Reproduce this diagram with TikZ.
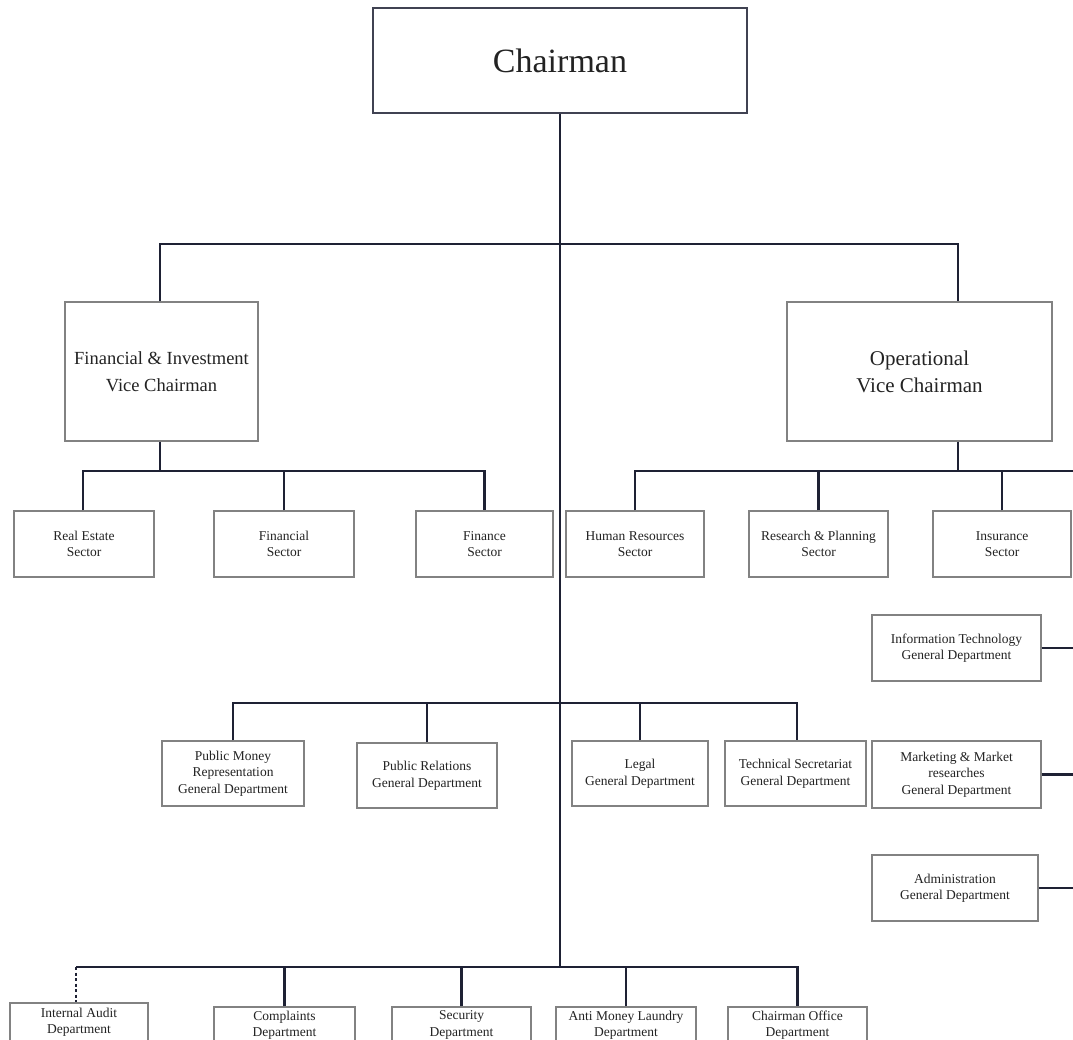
\documentclass[tikz,border=0pt]{standalone}
\usepackage{fontspec}
\setmainfont{Liberation Serif}
\definecolor{lineblue}{RGB}{30,33,52}
\definecolor{boxgray}{RGB}{130,130,130}
\definecolor{txt}{RGB}{35,35,35}
\tikzset{
  conn/.style={draw=lineblue, line width=2.6pt},
  dconn/.style={draw=lineblue, line width=1.6pt, dash pattern=on 3pt off 2.5pt},
  bx/.style={draw=boxgray, line width=1.4pt, fill=white, align=center, text=txt, inner sep=0pt,
             font=\fontsize{13.5}{16.5}\selectfont},
  vcbox/.style={bx, font=\fontsize{21}{27}\selectfont},
  fibox/.style={bx, font=\fontsize{18.5}{27}\selectfont},
  chbox/.style={draw=lineblue!85, line width=2.6pt, fill=white, align=center, text=txt, inner sep=0pt,
             font=\fontsize{34}{40}\selectfont},
}
\begin{document}
\begin{tikzpicture}[x=1pt, y=-1pt]
\useasboundingbox (0,0) rectangle (1073,1040);
\clip (0,0) rectangle (1073,1040);
\fill[white] (0,0) rectangle (1073,1040);

% bus levels and edge coordinates
\coordinate (topbus) at (0,244);
\coordinate (fbus) at (0,471);
\coordinate (obus) at (0,471);
\coordinate (mbus) at (0,703);
\coordinate (bbus) at (0,967);
\coordinate (redge) at (1073,471);

% nodes
\node[chbox, minimum width=374, minimum height=105] (chair) at (560,60.5) {Chairman};

\node[fibox, minimum width=193, minimum height=139] (fi) at (161.5,371.5) {Financial \& Investment\\Vice Chairman};
\node[vcbox, minimum width=265, minimum height=139] (op) at (919.5,371.5) {Operational\\Vice Chairman};

\node[bx, minimum width=140, minimum height=66] (re) at (84,544) {Real Estate\\Sector};
\node[bx, minimum width=140, minimum height=66] (fs) at (284,544) {Financial\\Sector};
\node[bx, minimum width=137, minimum height=66] (fn) at (484.5,544) {Finance\\Sector};
\node[bx, minimum width=138, minimum height=66] (hr) at (635,544) {Human Resources\\Sector};
\node[bx, minimum width=139, minimum height=66] (rp) at (818.5,544) {Research \& Planning\\Sector};
\node[bx, minimum width=138, minimum height=66] (ins) at (1002,544) {Insurance\\Sector};

\node[bx, minimum width=169, minimum height=66] (it) at (956.5,648) {Information Technology\\General Department};
\node[bx, minimum width=169, minimum height=67] (mk) at (956.5,774.5) {Marketing \& Market\\researches\\General Department};
\node[bx, minimum width=166, minimum height=66] (ad) at (955,888) {Administration\\General Department};

\node[bx, minimum width=142, minimum height=65] (pm) at (233,773.5) {Public Money\\Representation\\General Department};
\node[bx, minimum width=140, minimum height=65] (pr) at (427,775.5) {Public Relations\\General Department};
\node[bx, minimum width=136, minimum height=65] (lg) at (640,773.5) {Legal\\General Department};
\node[bx, minimum width=141, minimum height=65] (ts) at (795.5,773.5) {Technical Secretariat\\General Department};

\node[bx, minimum width=138, minimum height=38] (ia) at (79,1022) {Internal Audit\\Department};
\node[bx, minimum width=141, minimum height=36] (cp) at (284.5,1025) {Complaints\\Department};
\node[bx, minimum width=139, minimum height=36] (sc) at (461.5,1025) {Security\\Department};
\node[bx, minimum width=140, minimum height=36] (am) at (626,1025) {Anti Money Laundry\\Department};
\node[bx, minimum width=139, minimum height=36] (co) at (797.5,1025) {Chairman Office\\Department};

% connectors
\draw[conn] (chair.south) -- (chair.south |- bbus);
\draw[conn] ([xshift=-1.5]fi.north) -- ([xshift=-1.5]fi.north |- topbus) -- ([xshift=38.5]op.north |- topbus) -- ([xshift=38.5]op.north);

\draw[conn] ([xshift=-1.5]fi.south) -- ([xshift=-1.5]fi.south |- fbus);
\draw[conn] ([xshift=-1]re.north) -- ([xshift=-1]re.north |- fbus) -- (fn.north |- fbus) -- (fn.north);
\draw[conn] (fs.north) -- (fs.north |- fbus);

\draw[conn] ([xshift=38.5]op.south) -- ([xshift=38.5]op.south |- obus);
\draw[conn] (hr.north) -- (hr.north |- obus) -- (redge);
\draw[conn] (rp.north) -- (rp.north |- obus);
\draw[conn] (ins.north) -- (ins.north |- obus);

\draw[conn] (it.east) -- (it.east -| redge);
\draw[conn] (mk.east) -- (mk.east -| redge);
\draw[conn] (ad.east) -- (ad.east -| redge);

\draw[conn] (pm.north) -- (pm.north |- mbus) -- ([xshift=1.5]ts.north |- mbus) -- ([xshift=1.5]ts.north);
\draw[conn] (pr.north) -- (pr.north |- mbus);
\draw[conn] (lg.north) -- (lg.north |- mbus);

\draw[conn] ([xshift=-3]ia.north |- bbus) -- (co.north |- bbus) -- (co.north);
\draw[dconn] ([xshift=-3]ia.north |- bbus) -- ([xshift=-3]ia.north);
\draw[conn] (cp.north) -- (cp.north |- bbus);
\draw[conn] (sc.north) -- (sc.north |- bbus);
\draw[conn] (am.north) -- (am.north |- bbus);
\end{tikzpicture}
\end{document}
